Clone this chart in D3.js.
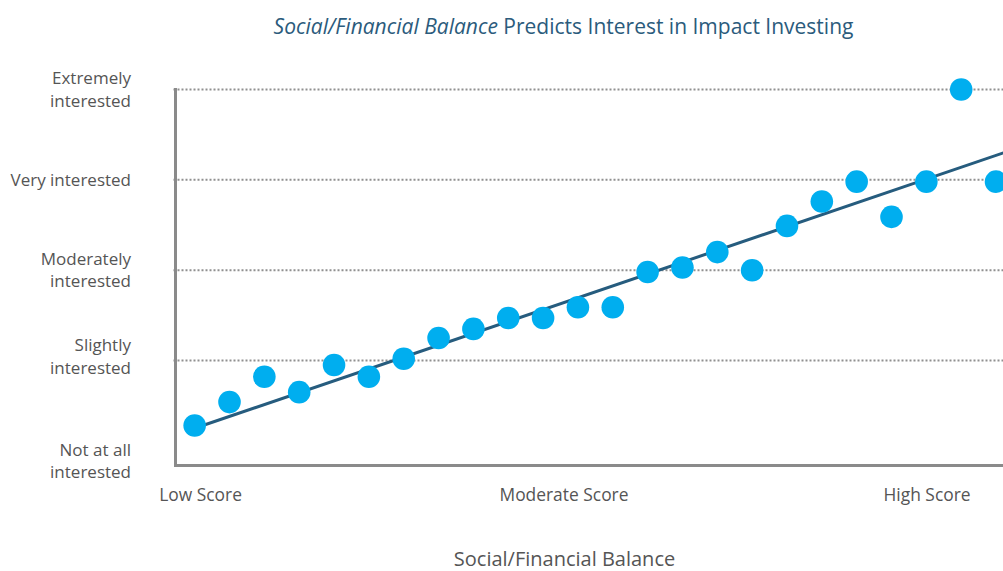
<!DOCTYPE html>
<html>
<head>
<meta charset="utf-8">
<script src="https://cdn.jsdelivr.net/npm/d3@7"></script>
<style>
  html, body { margin: 0; padding: 0; background: #fff; }
  svg { display: block; }
</style>
</head>
<body>
<svg id="chart" width="1003" height="571"></svg>
<script>
// ---- Data ----
const scores = [1,2,3,4,5,6,7,8,9,10,11,12,13,14,15,16,17,18,19,20,21,22,23,24];
const interest = [1.28,1.54,1.82,1.65,1.95,1.82,2.02,2.25,2.35,2.47,2.47,2.59,2.59,
                  2.98,3.03,3.20,3.00,3.49,3.76,3.98,3.59,3.98,5.00,3.98];
const trendX = [1, 24.3];
const trendY = [1.25, 4.31];
const yLevels = [1, 2, 3, 4, 5];
const yLabels = [["Not at all", "interested"], ["Slightly", "interested"],
                 ["Moderately", "interested"], ["Very interested"],
                 ["Extremely", "interested"]];
const xTickValues = [1.17, 11.6, 22.02];
const xTickLabels = ["Low Score", "Moderate Score", "High Score"];
const titleItalic = "Social/Financial Balance";
const titleRest = " Predicts Interest in Impact Investing";
const xAxisTitle = "Social/Financial Balance";

// ---- Layout ----
const svg = d3.select("#chart");
const left = 175.5, axisY = 465.5, topY = 89.5, right = 1003;
const font = "'Open Sans', sans-serif";
const grey = "#8a8a8a";
const labelColor = "#555";

const x = d3.scaleLinear().domain([0.45, 24.2]).range([left, right]);
const y = d3.scaleLinear().domain([0.838, 5]).range([axisY, topY]);

// Gridlines (dotted) for levels 2..5
svg.append("g").selectAll("line")
  .data(yLevels.filter(d => d > 1))
  .join("line")
  .attr("x1", left - 2).attr("x2", right)
  .attr("y1", d => y(d)).attr("y2", d => y(d))
  .attr("stroke", "#909090").attr("stroke-width", 2)
  .attr("stroke-dasharray", "2,2");

// Axes lines
svg.append("line")
  .attr("x1", left).attr("x2", left)
  .attr("y1", topY - 1.5).attr("y2", axisY + 1.5)
  .attr("stroke", grey).attr("stroke-width", 3);
svg.append("line")
  .attr("x1", left - 1.5).attr("x2", right)
  .attr("y1", axisY).attr("y2", axisY)
  .attr("stroke", grey).attr("stroke-width", 3);

// Trend line
svg.append("line")
  .attr("x1", x(trendX[0])).attr("y1", y(trendY[0]))
  .attr("x2", x(trendX[1])).attr("y2", y(trendY[1]))
  .attr("stroke", "#265c7e").attr("stroke-width", 3);

// Points
svg.append("g").selectAll("circle")
  .data(scores.map((s, i) => ({s, v: interest[i]})))
  .join("circle")
  .attr("cx", d => x(d.s)).attr("cy", d => y(d.v))
  .attr("r", 11.3)
  .attr("fill", "#00aeef");

// Y labels
const lh = 22.5;
const yl = svg.append("g")
  .attr("font-family", font).attr("font-size", 17).attr("fill", labelColor)
  .attr("text-anchor", "end");
yLevels.forEach((lev, i) => {
  const lines = yLabels[i];
  let cy = y(lev);
  if (i === 0) cy = axisY - 4.5;
  if (i === 1) cy -= 4;
  const t = yl.append("text").attr("x", 131);
  lines.forEach((ln, j) => {
    t.append("tspan").attr("x", 131)
      .attr("y", cy + (j - (lines.length - 1) / 2) * lh)
      .attr("dy", "0.35em").text(ln);
  });
});

// X tick labels
svg.append("g").selectAll("text")
  .data(xTickValues)
  .join("text")
  .attr("x", d => x(d)).attr("y", 500.5)
  .attr("text-anchor", "middle")
  .attr("font-family", font).attr("font-size", 17.4).attr("fill", labelColor)
  .text((d, i) => xTickLabels[i]);

// X axis title
svg.append("text")
  .attr("x", 564.5).attr("y", 566)
  .attr("text-anchor", "middle")
  .attr("font-family", font).attr("font-size", 20).attr("fill", labelColor)
  .text(xAxisTitle);

// Title
const title = svg.append("text")
  .attr("x", 563.5).attr("y", 33.5)
  .attr("text-anchor", "middle")
  .attr("font-family", font).attr("font-size", 21).attr("fill", "#2b5b7c");
title.append("tspan").attr("font-style", "italic").text(titleItalic);
title.append("tspan").text(titleRest);
</script>
</body>
</html>
